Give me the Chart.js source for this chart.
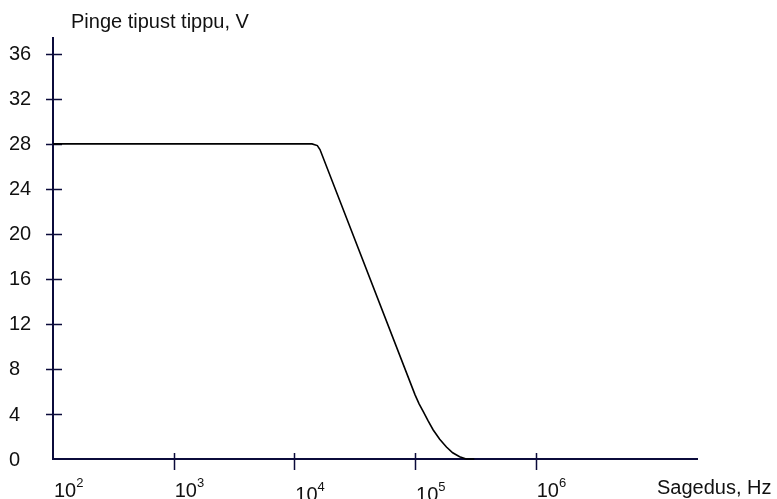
<!DOCTYPE html>
<html>
<head>
<meta charset="utf-8">
<script src="https://cdn.jsdelivr.net/npm/chart.js@4.4.0/dist/chart.umd.min.js"></script>
<style>
  html, body { margin: 0; padding: 0; background: #fff; }
  #wrap { width: 777px; height: 499px; }
</style>
</head>
<body>
<div id="wrap"><canvas id="myChart"></canvas></div>
<script>
// frequency (Hz) and peak voltage (V)
const freqs = [100, 14000, 15500, 16300, 100000, 108000, 117000, 128000, 141000, 160000, 182000, 205000, 234000, 265000, 310000];
const volts = [28, 28, 27.85, 27.5, 5.7, 4.9, 4.2, 3.4, 2.6, 1.75, 1.07, 0.55, 0.2, 0, 0];

const xTicks = [100, 1000, 10000, 100000, 1000000];
const xExps = ['2', '3', '4', '5', '6'];
const xLabelDrop = [0, 0, 4, 4, 0];
const yTicks = [0, 4, 8, 12, 16, 20, 24, 28, 32, 36];

const axisColor = '#0b0b3b';
const font = '20px "Liberation Sans", Arial, sans-serif';
const supFont = '13px "Liberation Sans", Arial, sans-serif';

const axesPlugin = {
    id: 'axesPlugin',
    beforeDatasetsDraw(chart) {
        const ctx = chart.ctx;
        const x = chart.scales.x, y = chart.scales.y;
        const a = chart.chartArea;
        ctx.save();
        ctx.strokeStyle = axisColor;
        ctx.lineWidth = 2;
        ctx.beginPath();
        ctx.moveTo(a.left, a.top);
        ctx.lineTo(a.left, a.bottom);
        ctx.lineTo(a.right, a.bottom);
        ctx.stroke();
        ctx.lineWidth = 1.5;
        ctx.beginPath();
        yTicks.forEach(v => {
            if (v === 0) return;
            const py = Math.round(y.getPixelForValue(v)) + 0.5;
            ctx.moveTo(a.left - 7, py);
            ctx.lineTo(a.left + 9, py);
        });
        xTicks.forEach(v => {
            if (v === 100) return;
            const px = Math.round(x.getPixelForValue(v)) + 0.5;
            ctx.moveTo(px, a.bottom - 6);
            ctx.lineTo(px, a.bottom + 11);
        });
        ctx.stroke();
        ctx.restore();
    },
    afterDraw(chart) {
        const ctx = chart.ctx;
        const x = chart.scales.x, y = chart.scales.y;
        const a = chart.chartArea;
        ctx.save();
        ctx.fillStyle = '#111';
        ctx.font = font;
        ctx.textAlign = 'left';
        ctx.textBaseline = 'middle';
        yTicks.forEach(v => {
            ctx.fillText(String(v), 9, y.getPixelForValue(v) + 1);
        });
        ctx.textBaseline = 'alphabetic';
        xTicks.forEach((v, i) => {
            const px = x.getPixelForValue(v) + 1;
            const base = 497 + xLabelDrop[i];
            ctx.font = font;
            ctx.fillText('10', px, base);
            const w = ctx.measureText('10').width;
            ctx.font = supFont;
            ctx.fillText(xExps[i], px + w, base - 10);
        });
        ctx.font = font;
        ctx.fillText('Pinge tipust tippu, V', 71, 28);
        ctx.fillText('Sagedus, Hz', 657, 494);
        ctx.restore();
    }
};

const ctx = document.getElementById('myChart').getContext('2d');

new Chart(ctx, {
    type: 'scatter',
    data: {
        datasets: [{
            data: freqs.map((f, i) => ({ x: f, y: volts[i] })),
            showLine: true,
            borderColor: '#000',
            borderWidth: 1.6,
            pointRadius: 0,
            tension: 0,
            clip: false
        }]
    },
    options: {
        responsive: true,
        maintainAspectRatio: false,
        animation: false,
        layout: { padding: { left: 53, right: 79, top: 37, bottom: 40 } },
        plugins: { legend: { display: false }, tooltip: { enabled: false } },
        scales: {
            x: { type: 'logarithmic', min: 100, max: 2.21e7, display: false },
            y: { type: 'linear', min: 0, max: 37.5, display: false }
        }
    },
    plugins: [axesPlugin]
});
</script>
</body>
</html>
